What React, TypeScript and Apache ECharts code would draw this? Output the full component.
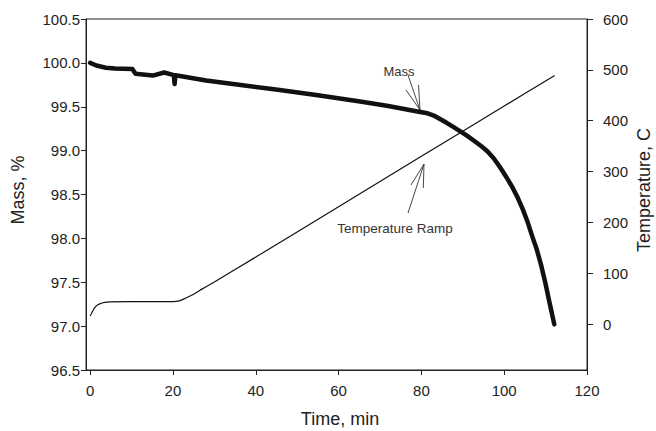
import React, { useEffect, useRef } from "react";
import * as echarts from "echarts";

// Time (min) vs Mass (%)
const massData: [number, number][] = [
  [0, 100.0], [1.5, 99.97], [3.8, 99.945], [6, 99.935], [10.2, 99.93], [10.6, 99.9], [11, 99.875],
  [15.1, 99.855], [17.9, 99.89], [20.2, 99.86], [20.4, 99.76], [20.6, 99.86], [23.1, 99.84],
  [28, 99.8], [35, 99.756], [45.8, 99.69], [55, 99.63], [65.2, 99.56], [72, 99.508], [79.7, 99.44],
  [81.5, 99.425], [83, 99.4], [84.5, 99.36], [86, 99.32], [87.7, 99.27], [89.4, 99.22], [91, 99.17],
  [92.8, 99.11], [94.5, 99.05], [96, 98.99], [97.5, 98.91], [99, 98.81], [100.5, 98.7],
  [102, 98.58], [103.2, 98.47], [104.5, 98.33], [105.7, 98.18], [106.8, 98.02], [107.9, 97.87],
  [109, 97.68], [110, 97.48], [110.8, 97.3], [111.5, 97.15], [112.1, 97.02],
];

// Time (min) vs Temperature (C)
const tempData: [number, number][] = [
  [0, 16], [0.5, 24], [1, 31], [1.5, 36], [2.3, 40], [3.5, 43], [4.8, 44], [10, 44.5], [20, 44.5],
  [21.5, 46], [23, 51], [25, 59], [27, 69], [30, 83], [40, 132], [60, 231], [80, 330], [100, 429],
  [112.2, 489],
];

const xTicks = [0, 20, 40, 60, 80, 100, 120];
const massTicks = [96.5, 97.0, 97.5, 98.0, 98.5, 99.0, 99.5, 100.0, 100.5];
const tempTicks = [0, 100, 200, 300, 400, 500, 600];

const FONT = "'Liberation Sans', Arial, Helvetica, sans-serif";
const INK = "#222";

export default function App() {
  const ref = useRef<HTMLDivElement>(null);
  useEffect(() => {
    if (!ref.current) return;
    const chart = echarts.init(ref.current, undefined, { renderer: "svg" });
    const axisLine = { show: true, onZero: false, lineStyle: { color: INK, width: 1 } };
    chart.setOption({
      animation: false,
      backgroundColor: "#fff",
      textStyle: { fontFamily: FONT, color: INK },
      grid: { left: 86, right: 69, top: 19, bottom: 61, show: true, borderColor: INK, borderWidth: 1, backgroundColor: "transparent" },
      xAxis: {
        type: "value",
        min: -1,
        max: 120,
        axisLine,
        splitLine: { show: false },
        axisTick: { show: true, length: 5, lineStyle: { color: INK }, customValues: xTicks },
        axisLabel: { customValues: xTicks, fontSize: 15, color: INK, margin: 13, fontFamily: FONT },
      },
      yAxis: [
        {
          type: "value",
          min: 96.5,
          max: 100.5,
          interval: 0.5,
          position: "left",
          axisLine,
          splitLine: { show: false },
          axisTick: { show: true, length: 5, lineStyle: { color: INK }, customValues: massTicks },
          axisLabel: {
            customValues: massTicks,
            fontSize: 15,
            color: INK,
            margin: 6,
            fontFamily: FONT,
            formatter: (v: number) => v.toFixed(1),
          },
        },
        {
          type: "value",
          min: -90,
          max: 600,
          position: "right",
          axisLine,
          splitLine: { show: false },
          axisTick: { show: true, length: 6, lineStyle: { color: INK }, customValues: tempTicks },
          axisLabel: { customValues: tempTicks, fontSize: 15, color: INK, margin: 16, fontFamily: FONT },
        },
      ],
      series: [
        {
          name: "Mass",
          type: "line",
          xAxisIndex: 0,
          yAxisIndex: 0,
          data: massData,
          showSymbol: false,
          lineStyle: { color: "#111", width: 4.5, cap: "round", join: "round" },
          z: 3,
        },
        {
          name: "Temperature",
          type: "line",
          xAxisIndex: 0,
          yAxisIndex: 1,
          data: tempData,
          showSymbol: false,
          smooth: 0.3,
          lineStyle: { color: "#111", width: 1.2 },
          z: 2,
        },
      ],
      graphic: [
        { type: "text", x: 18, y: 190, rotation: Math.PI / 2, style: { text: "Mass, %", fontSize: 18, fontFamily: FONT, fill: INK, align: "center", verticalAlign: "middle" } },
        { type: "text", x: 644, y: 190, rotation: Math.PI / 2, style: { text: "Temperature, C", fontSize: 18, fontFamily: FONT, fill: INK, align: "center", verticalAlign: "middle" } },
        { type: "text", x: 340, y: 419, style: { text: "Time, min", fontSize: 18, fontFamily: FONT, fill: INK, align: "center", verticalAlign: "middle" } },
        { type: "text", x: 399, y: 71, style: { text: "Mass", fontSize: 13, fontFamily: FONT, fill: "#333", align: "center", verticalAlign: "middle" } },
        { type: "text", x: 395, y: 228, style: { text: "Temperature Ramp", fontSize: 13.5, fontFamily: FONT, fill: "#333", align: "center", verticalAlign: "middle" } },
        { type: "line", shape: { x1: 408, y1: 75, x2: 420, y2: 110 }, style: { stroke: "#333", lineWidth: 0.9 } },
        { type: "line", shape: { x1: 406, y1: 90, x2: 420, y2: 110 }, style: { stroke: "#333", lineWidth: 0.9 } },
        { type: "line", shape: { x1: 418.5, y1: 85, x2: 420, y2: 110 }, style: { stroke: "#333", lineWidth: 0.9 } },
        { type: "line", shape: { x1: 408, y1: 213, x2: 424, y2: 164 }, style: { stroke: "#333", lineWidth: 0.9 } },
        { type: "line", shape: { x1: 411, y1: 185, x2: 424, y2: 164 }, style: { stroke: "#333", lineWidth: 0.9 } },
        { type: "line", shape: { x1: 423.3, y1: 188, x2: 424, y2: 164 }, style: { stroke: "#333", lineWidth: 0.9 } },
      ],
    });
    return () => chart.dispose();
  }, []);
  return <div ref={ref} style={{ position: "fixed", left: 0, top: 0, width: 656, height: 431 }} />;
}
